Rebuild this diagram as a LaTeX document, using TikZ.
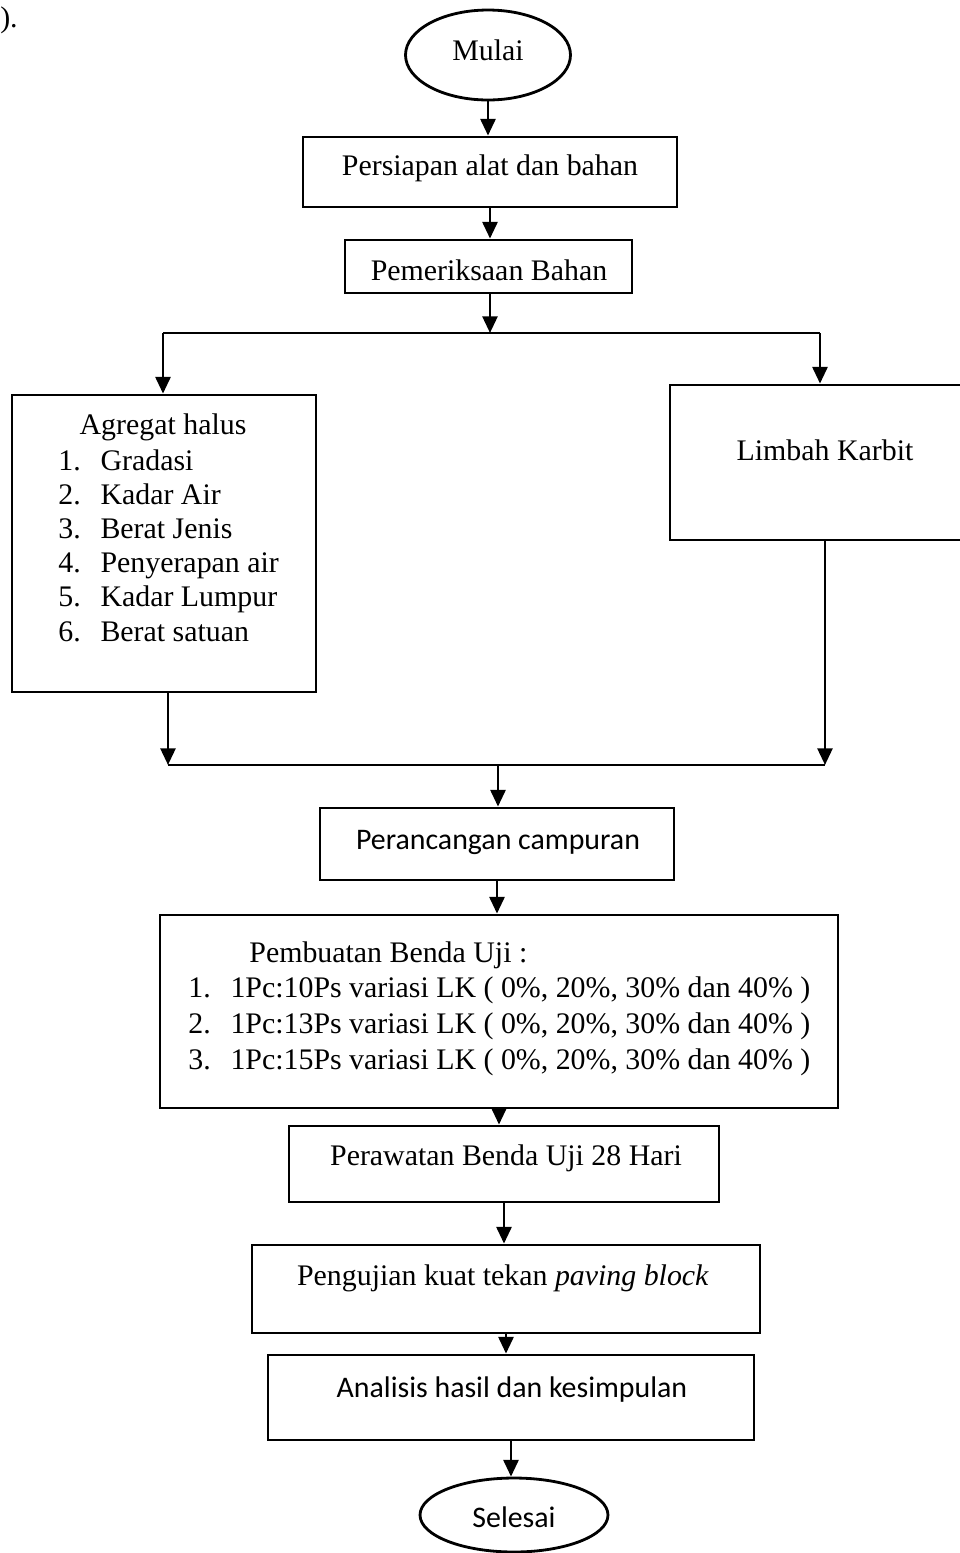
\documentclass[tikz,border=0pt]{standalone}
\usepackage{fontspec}
\setmainfont{Liberation Serif}
\newfontfamily\calib{Carlito}
\usetikzlibrary{arrows.meta,shapes.geometric,fit}
\begin{document}
\begin{tikzpicture}[x=0.02cm,y=-0.02cm,
  line width=1.6pt,
  pbox/.style={draw,rectangle,inner sep=0pt},
  term/.style={draw,ellipse,inner sep=0pt},
  flow/.style={-{Triangle[length=9.5pt,width=8.5pt]}},
  txt/.style={font=\fontsize{17}{19.4}\selectfont,inner sep=0pt},
  ctxt/.style={font=\calib\fontsize{17}{19.4}\selectfont,inner sep=0pt}
]
\useasboundingbox (0,0) rectangle (960,1553);

\node[txt] (frag) at (9,20) {).};

% terminals
\node[term,minimum width=3.3cm,minimum height=1.8cm] (mulai) at (488,55) {};
\node[txt] (tmulai) at (488,50) {Mulai};
\node[term,minimum width=3.76cm,minimum height=1.48cm] (selesai) at (514,1515) {};
\node[ctxt] (tselesai) at (514,1517) {Selesai};

% boxes
\node[pbox,fit={(303,137)(677,207)}] (persiapan) {};
\node[txt] (tpersiapan) at (490,168) {Persiapan alat dan bahan};

\node[pbox,fit={(345,240)(632,293)}] (pemeriksaan) {};
\node[txt] (tpemeriksaan) at (489,270) {Pemeriksaan Bahan};

\node[pbox,fit={(12,395)(316,692)}] (agregat) {};
\node[txt] (tagregat) at (163,427) {Agregat halus};
\node[txt,anchor=base west,align=left] (lagregat) at (57,641) {%
\makebox[24pt][l]{1.}Gradasi\\
\makebox[24pt][l]{2.}Kadar Air\\
\makebox[24pt][l]{3.}Berat Jenis\\
\makebox[24pt][l]{4.}Penyerapan air\\
\makebox[24pt][l]{5.}Kadar Lumpur\\
\makebox[24pt][l]{6.}Berat satuan};

\node[pbox,fit={(670,385)(964,540)}] (limbah) {};
\node[txt] (tlimbah) at (825,450) {Limbah Karbit};

\node[pbox,fit={(320,808)(674,880)}] (perancangan) {};
\node[ctxt] (tperancangan) at (498,842) {Perancangan campuran};

\node[pbox,fit={(160,915)(838,1108)}] (pembuatan) {};
\node[txt,anchor=base west] (tpembuatan) at (248,962) {Pembuatan Benda Uji :};
\node[txt,anchor=base west,align=left,font=\fontsize{17}{20.4}\selectfont] (lpembuatan) at (187,1069) {%
\makebox[24pt][l]{1.}1Pc:10Ps variasi LK ( 0\%, 20\%, 30\% dan 40\% )\\
\makebox[24pt][l]{2.}1Pc:13Ps variasi LK ( 0\%, 20\%, 30\% dan 40\% )\\
\makebox[24pt][l]{3.}1Pc:15Ps variasi LK ( 0\%, 20\%, 30\% dan 40\% )};

\node[pbox,fit={(289,1126)(719,1202)}] (perawatan) {};
\node[txt] (tperawatan) at (506,1158) {Perawatan Benda Uji 28 Hari};

\node[pbox,fit={(252,1245)(760,1333)}] (pengujian) {};
\node[txt] (tpengujian) at (503,1278) {Pengujian kuat tekan \textit{paving block}};

\node[pbox,fit={(268,1355)(754,1440)}] (analisis) {};
\node[ctxt] (tanalisis) at (512,1390) {Analisis hasil dan kesimpulan};

% junction coordinates
\coordinate (jM) at (490,333);
\coordinate (jL) at (163,333);
\coordinate (jR) at (820,333);
\coordinate (kL) at (168,765);
\coordinate (kR) at (825,765);
\coordinate (kM) at (498,765);

% connectors
\draw[flow] (mulai.south) -- (mulai.south |- persiapan.north);
\draw[flow] (persiapan.south) -- (persiapan.south |- pemeriksaan.north);
\draw[flow] (pemeriksaan.south -| jM) -- (jM);
\draw (jL) -- (jR);
\draw[flow] (jL) -- (jL |- agregat.north);
\draw[flow] (jR) -- (jR |- limbah.north);

\draw[flow] (agregat.south -| kL) -- (kL);
\draw[flow] (limbah.south -| kR) -- (kR);
\draw (kL) -- (kR);
\draw[flow] (kM) -- (kM |- perancangan.north);

\draw[flow] (perancangan.south) -- (perancangan.south |- pembuatan.north);
\draw[flow] (pembuatan.south) -- (pembuatan.south |- perawatan.north);
\draw[flow] (perawatan.south) -- (perawatan.south |- pengujian.north);
\draw[flow] (pengujian.south) -- (pengujian.south |- analisis.north);
\draw[flow] (analisis.south) -- (analisis.south |- selesai.north);
\end{tikzpicture}
\end{document}
